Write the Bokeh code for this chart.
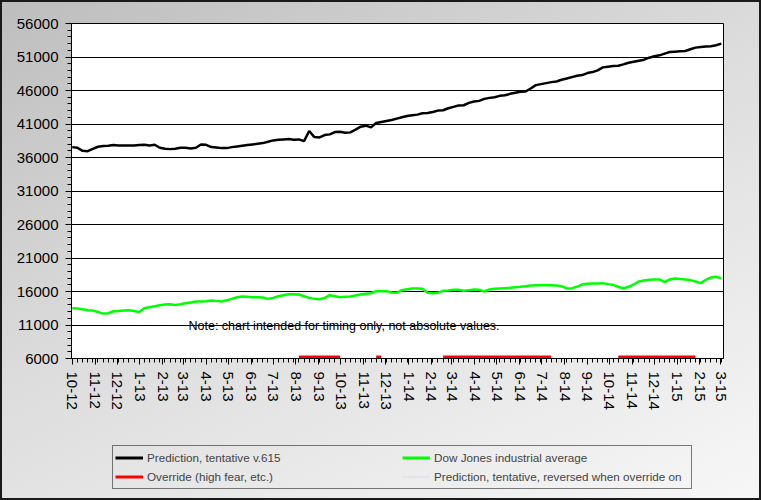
from datetime import date
import math
from bokeh.plotting import figure
from bokeh.layouts import column
from bokeh.models import FixedTicker, Legend, LegendItem, Label, ColumnDataSource, Range1d
from bokeh.embed import file_html
from bokeh.resources import INLINE

# ---------------- data (weekly, starting 2012-10-01) ----------------
start = date(2012, 10, 1)

prediction = [
    37550, 37450, 37000, 36950, 37300, 37600, 37700, 37750, 37850, 37800,
    37800, 37800, 37800, 37850, 37900, 37800, 37900, 37450, 37300, 37250,
    37300, 37450, 37450, 37350, 37450, 37950, 37900, 37550, 37500, 37400,
    37400, 37550, 37650, 37750, 37850, 37950, 38050, 38150, 38350, 38550,
    38650, 38700, 38750, 38650, 38700, 38450, 39950, 39050, 39000, 39350,
    39450, 39800, 39850, 39700, 39750, 40150, 40600, 40750, 40500, 41150,
    41300, 41450, 41600, 41800, 42000, 42200, 42300, 42400, 42600, 42650,
    42800, 43000, 43050, 43350, 43550, 43750, 43800, 44150, 44350, 44450,
    44750, 44900, 45000, 45200, 45300, 45500, 45650, 45800, 45850, 46300,
    46800, 46950, 47100, 47250, 47350, 47600, 47800, 48000, 48200, 48300,
    48600, 48750, 49000, 49450, 49550, 49650, 49700, 49900, 50150, 50300,
    50450, 50600, 50900, 51100, 51250, 51500, 51750, 51800, 51850, 51900,
    52150, 52400, 52500, 52550, 52600, 52750, 53000,
]

dow = [
    13500, 13450, 13350, 13200, 13150, 12950, 12700, 12750, 13050, 13100,
    13150, 13200, 13100, 12950, 13500, 13650, 13800, 13950, 14050, 14100,
    14000, 14100, 14250, 14350, 14500, 14500, 14550, 14650, 14600, 14500,
    14700, 14900, 15150, 15250, 15200, 15150, 15150, 15100, 14900, 15050,
    15300, 15450, 15600, 15600, 15550, 15300, 15050, 14900, 14850, 15050,
    15450, 15300, 15150, 15200, 15250, 15400, 15550, 15650, 15750, 16050,
    16050, 16050, 15850, 15800, 16200, 16350, 16450, 16450, 16400, 15800,
    15750, 15800, 16100, 16150, 16250, 16250, 16100, 16200, 16300, 16250,
    16000, 16300, 16400, 16450, 16500, 16550, 16650, 16700, 16800, 16900,
    16950, 16950, 16950, 16950, 16900, 16800, 16450, 16500, 16700, 17050,
    17150, 17200, 17200, 17250, 17100, 17000, 16700, 16450, 16700, 17050,
    17500, 17650, 17750, 17800, 17800, 17400, 17800, 17950, 17850, 17800,
    17700, 17500, 17250, 17750, 18100, 18200, 17950,
]

# override periods (inclusive week index ranges) and the level it is drawn at
override_weeks = [(44, 52), (59, 60), (72, 93), (106, 121)]
override_level = 6200

y_ticks = [6000, 11000, 16000, 21000, 26000, 31000, 36000, 41000, 46000, 51000, 56000]
month_labels = [
    "10-12", "11-12", "12-12", "1-13", "2-13", "3-13", "4-13", "5-13", "6-13",
    "7-13", "8-13", "9-13", "10-13", "11-13", "12-13", "1-14", "2-14", "3-14",
    "4-14", "5-14", "6-14", "7-14", "8-14", "9-14", "10-14", "11-14", "12-14",
    "1-15", "2-15", "3-15",
]

series_names = [
    "Prediction, tentative v.615",
    "Dow Jones industrial average",
    "Override (high fear, etc.)",
    "Prediction, tentative, reversed when override on",
]
series_colors = ["black", "#00ff00", "#ff0000", "#dde3ec"]
series_widths = [2.5, 2.5, 3.5, 1.5]
note_text = "Note: chart intended for timing only, not absolute values."

# ---------------- derived ----------------
n = len(prediction)
days = [7 * i for i in range(n)]
override = [override_level if any(a <= i <= b for a, b in override_weeks) else math.nan
            for i in range(n)]
src = ColumnDataSource(dict(x=days, pred=prediction, dow=dow, ovr=override,
                            rev=[math.nan] * n))

month_pos = []
for lab in month_labels:
    m, yy = lab.split("-")
    month_pos.append((date(2000 + int(yy), int(m), 1) - start).days)

FONT = "Liberation Sans"

p = figure(width=761, height=440, output_backend="svg", toolbar_location=None,
           x_range=Range1d(-1, 885), y_range=Range1d(6000, 56000),
           min_border_left=71, min_border_right=38, min_border_top=23,
           min_border_bottom=82,
           background_fill_color="white", border_fill_alpha=0,
           outline_line_color="black", outline_line_width=1)

p.xgrid.visible = False
p.ygrid.grid_line_color = "black"
p.ygrid.grid_line_alpha = 1.0
p.ygrid.grid_line_width = 1

yminor = [v for v in range(7000, 56000, 1000) if v not in y_ticks]
p.yaxis.ticker = FixedTicker(ticks=y_ticks, minor_ticks=yminor)
p.xaxis.ticker = FixedTicker(ticks=month_pos, minor_ticks=days)
p.xaxis.major_label_overrides = {pos: lab for pos, lab in zip(month_pos, month_labels)}
p.xaxis.major_label_orientation = "vertical"

for ax in (p.xaxis[0], p.yaxis[0]):
    ax.axis_line_color = "black"
    ax.major_tick_line_color = "black"
    ax.minor_tick_line_color = "black"
    ax.major_tick_in = 0
    ax.minor_tick_in = 0
    ax.major_tick_out = 6
    ax.minor_tick_out = 4
    ax.major_label_text_font = FONT
    ax.major_label_text_font_size = "15px"
    ax.major_label_text_color = "black"
    ax.major_label_standoff = 7

cols = ["pred", "dow", "ovr", "rev"]
for c, col, w in zip(cols, series_colors, series_widths):
    p.line("x", c, source=src, line_color=col, line_width=w)

p.add_layout(Label(x=158, y=10780, text=note_text, text_font=FONT,
                   text_font_size="12.5px", text_color="black",
                   text_baseline="alphabetic"))

# ---------------- legend strip ----------------
p2 = figure(width=761, height=60, output_backend="svg", toolbar_location=None,
            x_range=Range1d(0, 1), y_range=Range1d(0, 1),
            x_axis_type=None, y_axis_type=None,
            min_border=0, min_border_left=0, min_border_right=0,
            min_border_top=0, min_border_bottom=0,
            background_fill_alpha=0, border_fill_alpha=0, outline_line_color=None)
p2.grid.visible = False
renderers = []
for col, w in zip(series_colors, series_widths):
    renderers.append(p2.line([math.nan, math.nan], [math.nan, math.nan],
                             line_color=col, line_width=3 if w > 2 else w))
# column-major fill: col 1 = series 0, 2 ; col 2 = series 1, 3
order = [0, 2, 1, 3]
items = [LegendItem(label=series_names[i], renderers=[renderers[i]]) for i in order]

legend = Legend(items=items, ncols=2, location=(41, 11), orientation="vertical",
                label_text_font=FONT, label_text_font_size="11.7px",
                glyph_width=28, glyph_height=19, label_height=19, label_width=255,
                label_standoff=4, spacing=0, padding=2, margin=0,
                border_line_color="black", border_line_width=1,
                background_fill_alpha=0)
p2.add_layout(legend)

layout = column(p, p2, spacing=0, styles={
    "background": "linear-gradient(155deg, #bdbdbd 0%, #dcdcdc 45%, #f7f7f7 100%)",
    "outline": "2px solid #1a1a1a",
    "outline-offset": "-2px",
})

open("out.html", "w").write(file_html(layout, INLINE))
